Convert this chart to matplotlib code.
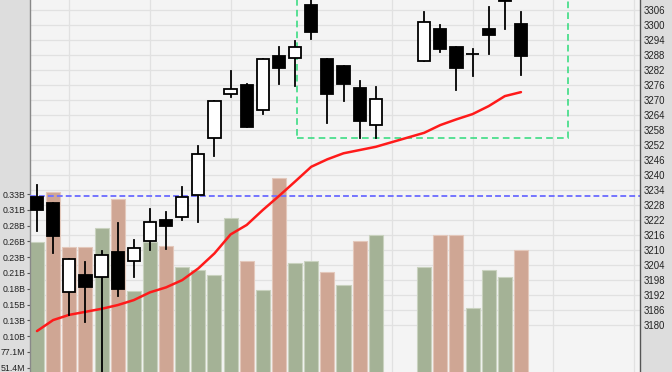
import numpy as np
import matplotlib
matplotlib.use("Agg")
import matplotlib.pyplot as plt
import matplotlib.patches as patches
import matplotlib.transforms as mtransforms

# bar positions (22 and 23 are an empty gap)
idx = list(range(0, 22)) + list(range(24, 31))

opens = [3231.2, 3229.0, 3193.3, 3200.0, 3199.1, 3209.4, 3205.6, 3213.7, 3221.9, 3223.1,
         3232.1, 3255.0, 3272.5, 3276.2, 3266.1, 3287.9, 3286.8, 3308.1, 3286.6, 3283.6,
         3275.1, 3260.0, 3285.9, 3298.6, 3291.2, 3288.6, 3298.6, 3310.5, 3300.5]
highs = [3236.0, 3229.0, 3206.4, 3205.2, 3209.8, 3220.7, 3213.9, 3226.4, 3225.4, 3235.3,
         3251.7, 3269.7, 3281.8, 3276.5, 3286.4, 3291.5, 3293.8, 3313.0, 3286.6, 3283.6,
         3277.8, 3275.5, 3305.4, 3300.2, 3291.5, 3290.6, 3307.5, 3312.0, 3305.4]
lows = [3217.7, 3208.8, 3184.0, 3181.3, 3155.0, 3191.6, 3199.4, 3210.2, 3210.4, 3221.9,
        3221.1, 3247.8, 3271.5, 3259.4, 3264.5, 3276.6, 3275.8, 3294.5, 3260.8, 3269.9,
        3254.8, 3254.8, 3285.9, 3289.5, 3274.0, 3279.9, 3288.6, 3298.5, 3280.0]
closes = [3226.1, 3215.8, 3206.4, 3195.3, 3208.0, 3194.3, 3211.0, 3221.1, 3219.7, 3231.3,
          3248.4, 3269.7, 3274.4, 3259.4, 3286.4, 3282.8, 3291.5, 3297.5, 3272.7, 3276.7,
          3261.7, 3270.7, 3301.4, 3290.6, 3283.1, 3288.6, 3296.1, 3309.6, 3287.8]

ma = [3177.6, 3182.0, 3184.1, 3185.3, 3186.5, 3188.0, 3190.0, 3193.1, 3195.1, 3198.0,
      3202.7, 3208.7, 3216.3, 3220.1, 3226.1, 3231.7, 3237.5, 3243.4, 3246.4, 3248.8,
      3250.1, 3251.4, 3257.0, 3260.1, 3262.4, 3264.5, 3267.7, 3271.7, 3273.3]

# volume in millions, colour flag g/r
volume = [256.5, 336.9, 247.8, 247.8, 278.2, 326.0, 176.2, 256.5, 249.5, 215.3,
          210.4, 202.8, 295.6, 225.1, 177.4, 360.6, 222.3, 225.1, 207.2, 186.5,
          257.6, 267.4, 215.3, 267.4, 267.4, 148.6, 209.9, 199.0, 242.5]
vol_side = ['g', 'r', 'r', 'r', 'g', 'r', 'g', 'g', 'r', 'g',
            'g', 'g', 'g', 'r', 'g', 'r', 'g', 'g', 'r', 'g',
            'r', 'g', 'g', 'r', 'r', 'g', 'g', 'g', 'r']

vol_ticks = [51.4, 77.1, 102.8, 128.5, 154.2, 179.9, 205.6, 231.3, 257.0, 282.7, 308.4, 334.1]
vol_labels = ['51.4M', '77.1M', '0.10B', '0.13B', '0.15B', '0.18B', '0.21B', '0.23B',
              '0.26B', '0.28B', '0.31B', '0.33B']
price_ticks = list(range(3180, 3307, 6))

level_line = 3231.8
box_left, box_right, box_bottom = 16.1, 32.9, 3254.9

fig = plt.figure(figsize=(6.72, 3.72), dpi=100, facecolor='#dddddd')
axv = fig.add_axes([30 / 672, 0, 610 / 672, 1])
axp = axv.twinx()
axv.set_facecolor('#f4f4f4')
axp.patch.set_visible(False)

grid_c = '#e1e1e1'
for gx in range(2, 38, 5):
    axv.axvline(gx, color=grid_c, lw=0.9, zorder=0)
trans = mtransforms.blended_transform_factory(axv.transAxes, axp.transData)
for p in price_ticks:
    axv.plot([0, 1], [p, p], transform=trans, color=grid_c, lw=0.9, zorder=0)

fc = {'g': '#a4b296', 'r': '#cfa694'}
ec = {'g': '#c9d2bf', 'r': '#e3c8bb'}
axv.bar(idx, volume, width=0.87, color=[fc[s] for s in vol_side],
        edgecolor=[ec[s] for s in vol_side], linewidth=0.8, zorder=2)

# price panel
axp.axhline(level_line, color='#7474ff', lw=1.4, dashes=(3, 1.6), zorder=1)
axp.add_patch(patches.Rectangle((box_left, box_bottom), box_right - box_left, 200,
                                fill=False, edgecolor='#3ddc84', lw=1.2,
                                linestyle=(0, (4, 2.5)), zorder=1))
axp.plot(idx, ma, color='#ff1a1a', lw=1.8, zorder=2, solid_capstyle='round')

bw = 0.76
for x, o, h, l, c in zip(idx, opens, highs, lows, closes):
    axp.plot([x, x], [l, h], color='black', lw=1.3, zorder=3)
    face = 'white' if c >= o else 'black'
    axp.add_patch(patches.Rectangle((x - bw / 2, min(o, c)), bw, abs(c - o),
                                    facecolor=face, edgecolor='black', lw=1.3, zorder=4))

axv.set_xlim(-0.434, 37.38)
axv.set_ylim(44.5, 649.8)
axp.set_ylim(3161.2, 3310.2)

axv.set_xticks([])
axv.set_yticks(vol_ticks)
axv.set_yticklabels(vol_labels, fontsize=6.3, family='Liberation Sans', color='#222')
axv.tick_params(axis='y', length=2, width=0.8, color='#555', pad=1.2)
axp.set_yticks(price_ticks)
axp.set_yticklabels([str(p) for p in price_ticks], fontsize=6.9,
                    family='Liberation Sans', color='#222')
axp.tick_params(axis='y', length=0, pad=2.5)

for s in ['top', 'bottom', 'right']:
    axv.spines[s].set_visible(False)
for s in ['top', 'bottom', 'left']:
    axp.spines[s].set_visible(False)
axv.spines['left'].set_color('#888')
axv.spines['left'].set_linewidth(1)
axp.spines['right'].set_color('#555')
axp.spines['right'].set_linewidth(1)

fig.savefig('out.png', dpi=100, facecolor=fig.get_facecolor())
